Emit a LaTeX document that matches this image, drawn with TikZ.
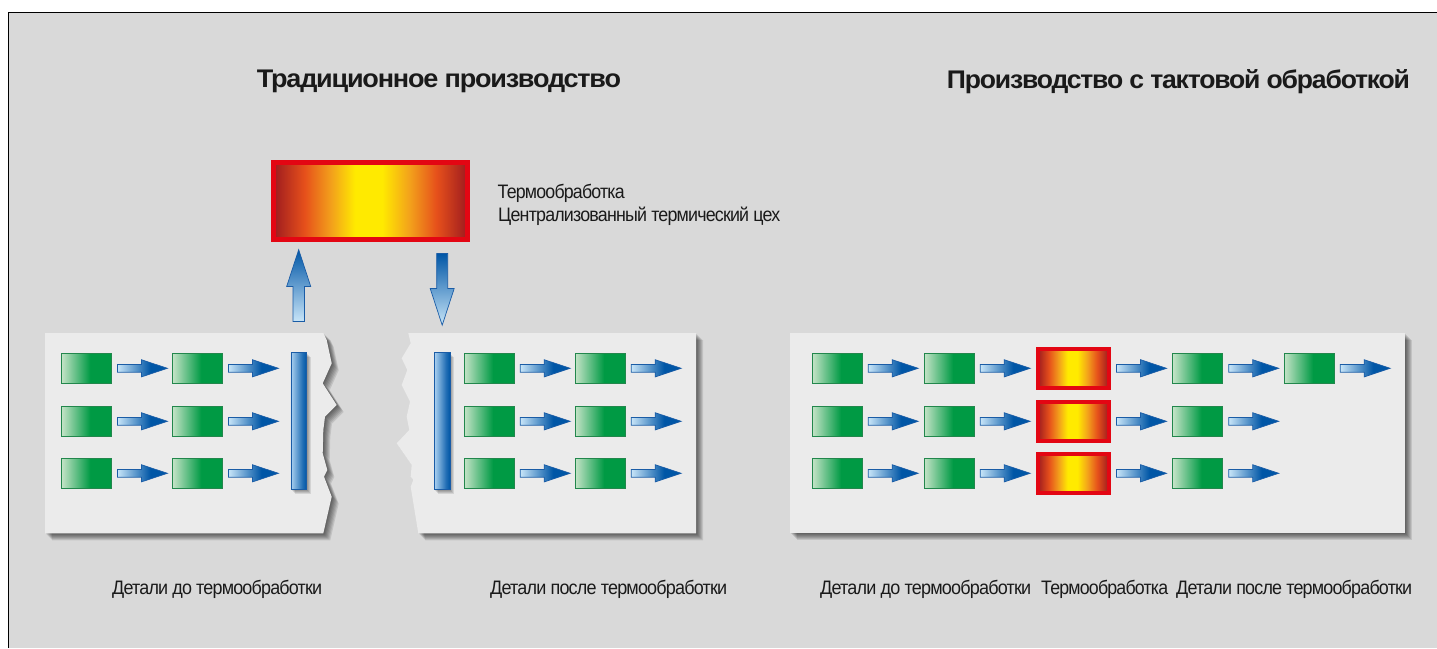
\documentclass[tikz,border=0pt]{standalone}
\usepackage{fontspec}
\setmainfont{Liberation Sans}
\newfontfamily\tightsans[LetterSpace=-4.5]{Liberation Sans}
\usepackage{graphicx}
\usetikzlibrary{calc}

\definecolor{bg}{HTML}{D9D9D9}
\definecolor{panel}{HTML}{EBEBEB}
\definecolor{ink}{HTML}{1A1A1A}
\definecolor{gl}{HTML}{C6E4C8}
\definecolor{gd}{HTML}{009A44}
\definecolor{gedge}{HTML}{22874C}
\definecolor{bl}{HTML}{C8E5F8}
\definecolor{bd}{HTML}{0056A6}
\definecolor{bedge}{HTML}{1A5CA6}
\definecolor{barl}{HTML}{A9D0F0}
\definecolor{hotred}{HTML}{E30613}
\definecolor{fdark}{HTML}{9E1B1F}
\definecolor{forange}{HTML}{E6501B}
\definecolor{famber}{HTML}{F3A21B}
\definecolor{fyellow}{HTML}{FFEA00}

% colour ramps (the path box is mapped onto 25bp..75bp)
\pgfdeclarehorizontalshading{greenfade}{100bp}{color(0bp)=(gl); color(25bp)=(gl); color(54bp)=(gd); color(75bp)=(gd); color(100bp)=(gd)}
\pgfdeclarehorizontalshading{bluefade}{100bp}{color(0bp)=(bl); color(25bp)=(bl); color(58bp)=(bd); color(75bp)=(bd); color(100bp)=(bd)}
\pgfdeclarehorizontalshading{barfade}{100bp}{color(0bp)=(barl); color(25bp)=(barl); color(62bp)=(bd!80!barl); color(75bp)=(bd); color(100bp)=(bd)}
\pgfdeclarehorizontalshading{heat}{100bp}{color(0bp)=(fdark); color(25bp)=(fdark); color(33bp)=(forange); color(40bp)=(famber); color(46bp)=(fyellow); color(53bp)=(fyellow); color(60bp)=(famber); color(67bp)=(forange); color(75bp)=(fdark); color(100bp)=(fdark)}

\tikzset{
  part/.style={draw=gedge, line width=0.8pt, shade, shading=greenfade,
    minimum width=50pt, minimum height=30pt, inner sep=0pt},
  hotbox/.style={draw=hotred, line width=4pt, shade, shading=heat,
    minimum width=71pt, minimum height=39pt, inner sep=0pt},
  oven/.style={draw=hotred, line width=5pt, shade, shading=heat,
    minimum width=194pt, minimum height=77pt, inner sep=0pt},
  collector/.style={draw=bedge, line width=0.6pt, shade, shading=barfade,
    minimum width=15.5pt, minimum height=137pt, inner sep=0pt},
  flowarrowstyle/.style={draw=bedge, line width=0.7pt, shade, shading=bluefade},
  liftarrow/.style={draw=bedge, line width=0.7pt, top color=bd, bottom color=bl},
  title/.style={font=\tightsans\fontsize{25.5}{25.5}\selectfont\bfseries, text=ink, inner sep=0pt, anchor=base west},
  caption/.style={font=\tightsans\fontsize{19.5}{19.5}\selectfont, text=ink, inner sep=0pt, anchor=base west},
}

% horizontal block arrow leaving a node
\newcommand\flowarrow[1]{%
  \path[flowarrowstyle] ($(#1.east)+(5.8,-3.9)$) -- ++(24,0) -- ++(0,-4.7)
    -- ++(26,8.6) -- ++(-26,8.6) -- ++(0,-4.7) -- ++(-24,0) -- cycle;}

% soft shadow below and to the right of a panel outline
\newcommand\castshadow[1]{%
  \foreach \d in {1,...,7}{\fill[black,opacity=0.1,shift={(\d,\d)}] #1;}}

\newcommand\fitto[2]{\resizebox{#1pt}{\height}{#2}}

\def\leftpanel{(45,333) -- (323.3,333) -- (326.7,340) -- (331.7,363.3) -- (322.7,383.3)
  -- (336.7,405) -- (325,416.7) -- (323.3,430) -- (322.7,453.3) -- (327.3,470)
  -- (324,476.7) -- (331.7,496.7) -- (323.3,533.3) -- (45,533.3) -- cycle}
\def\midpanel{(408.3,333) -- (696,333) -- (696,533.3) -- (418.3,533.3) -- (410.7,486.7)
  -- (413.3,480) -- (410.7,476.7) -- (411.7,465) -- (396.7,443.3) -- (409.3,430)
  -- (406.7,416.7) -- (410,401.7) -- (401.7,385) -- (407.3,370) -- (401.7,358.3)
  -- (410.7,343.3) -- cycle}
\def\rightpanel{(790,333) rectangle (1405,533.3)}

\begin{document}
\begin{tikzpicture}[x=1pt,y=-1pt]
\useasboundingbox (0,0) rectangle (1437,648);
\fill[white] (0,0) rectangle (1437,648);
\fill[bg] (8.5,12.5) rectangle (1437,648);
\draw[line width=1.6pt, black] (8.5,648) -- (8.5,12.5) -- (1437,12.5);

% headings
\node[title] (t1) at (256.7,87.3) {\fitto{364}{Традиционное производство}};
\node[title] (t2) at (946.7,88) {\fitto{463}{Производство с тактовой обработкой}};

% panels
\castshadow{\leftpanel}
\castshadow{\midpanel}
\castshadow{\rightpanel}
\fill[panel] \leftpanel;
\fill[panel] \midpanel;
\fill[panel] \rightpanel;

% central heat-treatment shop
\node[oven] (oven) at (370.5,201) {};
\node[caption] (ovenl1) at (497.5,198) {\fitto{127}{Термообработка}};
\node[caption] (ovenl2) at (498,221.7) {\fitto{282}{Централизованный термический цех}};

% collecting bars with their shadows
\foreach \d in {1,...,4}{
  \fill[black,opacity=0.1] (291+\d,352.7+\d) rectangle (306.5+\d,489.7+\d);
  \fill[black,opacity=0.1] (434.4+\d,352.7+\d) rectangle (449.9+\d,489.7+\d);}
\node[collector] (barL) at (298.7,421.2) {};
\node[collector] (barM) at (442.2,421.2) {};

% left panel: parts before heat treatment
\foreach \r/\y in {1/368.3,2/421.3,3/473.3}{
  \node[part] (gL\r1) at (86.2,\y) {};
  \node[part] (gL\r2) at (197.2,\y) {};
  \flowarrow{gL\r1}
  \flowarrow{gL\r2}
}

% middle panel: parts after heat treatment
\foreach \r/\y in {1/368.3,2/421.3,3/473.3}{
  \node[part] (gM\r1) at (489,\y) {};
  \node[part] (gM\r2) at (600,\y) {};
  \flowarrow{gM\r1}
  \flowarrow{gM\r2}
}

% transport to and from the shop
\coordinate (upfoot) at ($(barL.north)+(0,-31)$);
\coordinate (downtop) at ($(oven.south -| barM.north)+(0,11.5)$);
\path[liftarrow] ($(upfoot)+(-5.7,0)$) -- ++(0,-35) -- ++(-6.3,0) -- ++(12,-36.7)
  -- ++(12,36.7) -- ++(-6.3,0) -- ++(0,35) -- cycle;
\path[liftarrow] ($(downtop)+(-5.5,0)$) -- ++(0,35) -- ++(-6.5,0) -- ++(12,36.7)
  -- ++(12,-36.7) -- ++(-6.5,0) -- ++(0,-35) -- cycle;

% right panel: in-line heat treatment
\foreach \r/\y in {1/368.3,2/421.3,3/473.3}{
  \node[part] (gR\r1) at (837,\y) {};
  \node[part] (gR\r2) at (949,\y) {};
  \node[hotbox] (hR\r) at (1073.2,\y) {};
  \node[part] (gR\r3) at (1197.5,\y) {};
  \flowarrow{gR\r1}
  \flowarrow{gR\r2}
  \flowarrow{hR\r}
  \flowarrow{gR\r3}
}
\node[part] (gR14) at (1309,368.3) {};
\flowarrow{gR14}

% captions
\node[caption] (c1) at (112,594) {\fitto{210}{Детали до термообработки}};
\node[caption] (c2) at (490,594) {\fitto{237}{Детали после термообработки}};
\node[caption] (c3) at (820,594) {\fitto{211}{Детали до термообработки}};
\node[caption] (c4) at (1041,594) {\fitto{127}{Термообработка}};
\node[caption] (c5) at (1176,594) {\fitto{236}{Детали после термообработки}};
\end{tikzpicture}
\end{document}
